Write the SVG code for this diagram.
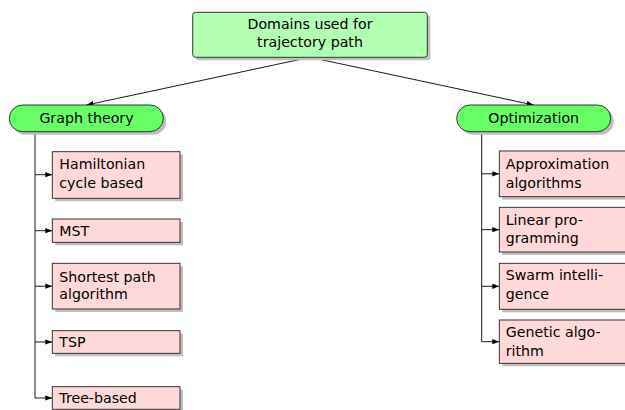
<svg xmlns="http://www.w3.org/2000/svg" width="625" height="410" viewBox="0 0 625 410">
  <style>
    .shadow { fill: #bfbfbf; stroke: none; }
    .root { fill: #b3ffb3; stroke: #222; stroke-width: 0.9; }
    .cat { fill: #66ff66; stroke: #222; stroke-width: 0.9; }
    .leaf { fill: #ffd9d9; stroke: #222; stroke-width: 0.9; }
    .edge { fill: none; stroke: #000; stroke-width: 0.9; }
    text { font-family: "DejaVu Sans", "Liberation Sans", sans-serif; font-size: 14.2px; fill: #000; }
    .c { text-anchor: middle; }
  </style>
  <defs>
    <marker id="arr" markerUnits="userSpaceOnUse" markerWidth="8" markerHeight="6" refX="7" refY="3" orient="auto">
      <path d="M0,0.4 L7,3 L0,5.6 z" fill="#000"/>
    </marker>
  </defs>

  <g id="connectors">
    <path class="edge" d="M310,57.3 L86.5,105" marker-end="url(#arr)"/>
    <path class="edge" d="M310,57.3 L533.7,105" marker-end="url(#arr)"/>
    <!-- left tree -->
    <path class="edge" d="M35,131.7 V174.7 H52.3" marker-end="url(#arr)"/>
    <path class="edge" d="M35,174.7 V230.7 H52.3" marker-end="url(#arr)"/>
    <path class="edge" d="M35,230.7 V286.2 H52.3" marker-end="url(#arr)"/>
    <path class="edge" d="M35,286.2 V342 H52.3" marker-end="url(#arr)"/>
    <path class="edge" d="M35,342 V398 H52.3" marker-end="url(#arr)"/>
    <!-- right tree -->
    <path class="edge" d="M481.7,131.7 V173.8 H499.3" marker-end="url(#arr)"/>
    <path class="edge" d="M481.7,173.8 V229.7 H499.3" marker-end="url(#arr)"/>
    <path class="edge" d="M481.7,229.7 V286.3 H499.3" marker-end="url(#arr)"/>
    <path class="edge" d="M481.7,286.3 V341.7 H499.3" marker-end="url(#arr)"/>
  </g>

  <g id="root">
    <rect class="shadow" x="195.7" y="15.3" width="234.6" height="45" rx="3"/>
    <rect class="root" x="192.7" y="12.3" width="234.6" height="45" rx="3"/>
    <text class="c" x="310" y="29">Domains used for</text>
    <text class="c" x="310" y="46.5">trajectory path</text>
  </g>

  <g id="graph-theory">
    <rect class="shadow" x="12.3" y="108" width="154" height="26.7" rx="13.3"/>
    <rect class="cat" x="9.3" y="105" width="154" height="26.7" rx="13.3"/>
    <text class="c" x="86.5" y="122.7">Graph theory</text>
  </g>

  <g id="optimization">
    <rect class="shadow" x="459.7" y="108" width="154" height="26.7" rx="13.3"/>
    <rect class="cat" x="456.7" y="105" width="154" height="26.7" rx="13.3"/>
    <text class="c" x="533.7" y="122.7">Optimization</text>
  </g>

  <g id="hamiltonian">
    <rect class="shadow" x="55.3" y="154.7" width="127.7" height="46.6"/>
    <rect class="leaf" x="52.3" y="151.7" width="127.7" height="46.6"/>
    <text x="59.3" y="169">Hamiltonian</text>
    <text x="59.3" y="188.3">cycle based</text>
  </g>

  <g id="mst">
    <rect class="shadow" x="55.3" y="222" width="127.7" height="23.3"/>
    <rect class="leaf" x="52.3" y="219" width="127.7" height="23.3"/>
    <text x="59.3" y="235.7">MST</text>
  </g>

  <g id="shortest-path">
    <rect class="shadow" x="55.3" y="266.3" width="127.7" height="45.7"/>
    <rect class="leaf" x="52.3" y="263.3" width="127.7" height="45.7"/>
    <text x="59.3" y="281.7">Shortest path</text>
    <text x="59.3" y="299.3">algorithm</text>
  </g>

  <g id="tsp">
    <rect class="shadow" x="55.3" y="333.7" width="127.7" height="22.6"/>
    <rect class="leaf" x="52.3" y="330.7" width="127.7" height="22.6"/>
    <text x="59.3" y="347.3">TSP</text>
  </g>

  <g id="tree-based">
    <rect class="shadow" x="55.3" y="389.7" width="127.7" height="22.6"/>
    <rect class="leaf" x="52.3" y="386.7" width="127.7" height="22.6"/>
    <text x="59.3" y="403.3">Tree-based</text>
  </g>

  <g id="approximation">
    <rect class="shadow" x="502.3" y="154" width="127.7" height="45.7"/>
    <rect class="leaf" x="499.3" y="151" width="127.7" height="45.7"/>
    <text x="505.7" y="169">Approximation</text>
    <text x="505.7" y="187.7">algorithms</text>
  </g>

  <g id="linear-programming">
    <rect class="shadow" x="502.3" y="210.3" width="127.7" height="44.7"/>
    <rect class="leaf" x="499.3" y="207.3" width="127.7" height="44.7"/>
    <text x="505.7" y="225">Linear pro-</text>
    <text x="505.7" y="243.3">gramming</text>
  </g>

  <g id="swarm-intelligence">
    <rect class="shadow" x="502.3" y="266.3" width="127.7" height="46"/>
    <rect class="leaf" x="499.3" y="263.3" width="127.7" height="46"/>
    <text x="505.7" y="280">Swarm intelli-</text>
    <text x="505.7" y="299.3">gence</text>
  </g>

  <g id="genetic-algorithm">
    <rect class="shadow" x="502.3" y="323" width="127.7" height="43.3"/>
    <rect class="leaf" x="499.3" y="320" width="127.7" height="43.3"/>
    <text x="505.7" y="337.3">Genetic algo-</text>
    <text x="505.7" y="356">rithm</text>
  </g>
</svg>
